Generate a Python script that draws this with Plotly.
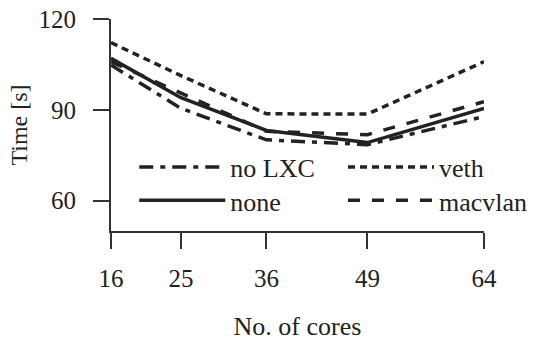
import plotly.graph_objects as go

cores = [16, 25, 36, 49, 64]
no_lxc = [104.8, 90.5, 80.1, 78.5, 87.8]
veth = [112.2, 101.3, 88.7, 88.6, 105.9]
none = [107.0, 94.0, 83.2, 79.2, 90.5]
macvlan = [105.9, 95.5, 82.9, 81.8, 92.7]

# name, values, dash, legend slot
series = [
    ("no LXC", no_lxc, "14px,7px,5px,7px", "legend"),
    ("veth", veth, "7px,5px", "legend2"),
    ("none", none, "solid", "legend3"),
    ("macvlan", macvlan, "12px,12px", "legend4"),
]

FONT = "Liberation Serif"
INK = "#222222"
AX = "#333333"

fig = go.Figure()
for name, ys, dash, lg in series:
    fig.add_trace(go.Scatter(x=cores, y=ys, name=name, mode="lines", legend=lg,
                             line=dict(color=INK, width=3.5, dash=dash)))

leg_common = dict(orientation="v", xanchor="left", yanchor="middle",
                  itemwidth=86, bgcolor="rgba(0,0,0,0)",
                  font=dict(family=FONT, size=26, color=INK))

fig.update_layout(
    width=536, height=341,
    margin=dict(l=111, r=52, t=19, b=110, autoexpand=False),
    paper_bgcolor="white", plot_bgcolor="white",
    font=dict(family=FONT, size=25, color=INK),
    showlegend=True,
    legend=dict(x=0.0624, y=0.302, **leg_common),
    legend2=dict(x=0.622, y=0.302, **leg_common),
    legend3=dict(x=0.0624, y=0.144, **leg_common),
    legend4=dict(x=0.622, y=0.144, **leg_common),
)
fig.update_xaxes(range=[16, 64], tickvals=cores, ticktext=[str(c) for c in cores],
                 automargin=False,
                 showgrid=False, zeroline=False, showline=True, linecolor=AX,
                 linewidth=2, ticks="outside", ticklen=16, tickwidth=2, tickcolor=AX,
                 ticklabelstandoff=8,
                 title=dict(text="No. of cores", standoff=29,
                            font=dict(family=FONT, size=26, color=INK)))
fig.update_yaxes(range=[50, 120], tickvals=[60, 90, 120],
                 automargin=False, ticklabeloverflow="allow",
                 showgrid=False, zeroline=False, showline=True, linecolor=AX,
                 linewidth=2, ticks="outside", ticklen=16, tickwidth=2, tickcolor=AX,
                 ticklabelstandoff=12,
                 title=dict(text="Time [s]", standoff=4,
                            font=dict(family=FONT, size=24, color=INK)))

# remove the browser's default 8px body margin so the figure fills the window
fig.write_html("out.html", config={"displayModeBar": False},
               post_script="document.body.style.margin='0';")
